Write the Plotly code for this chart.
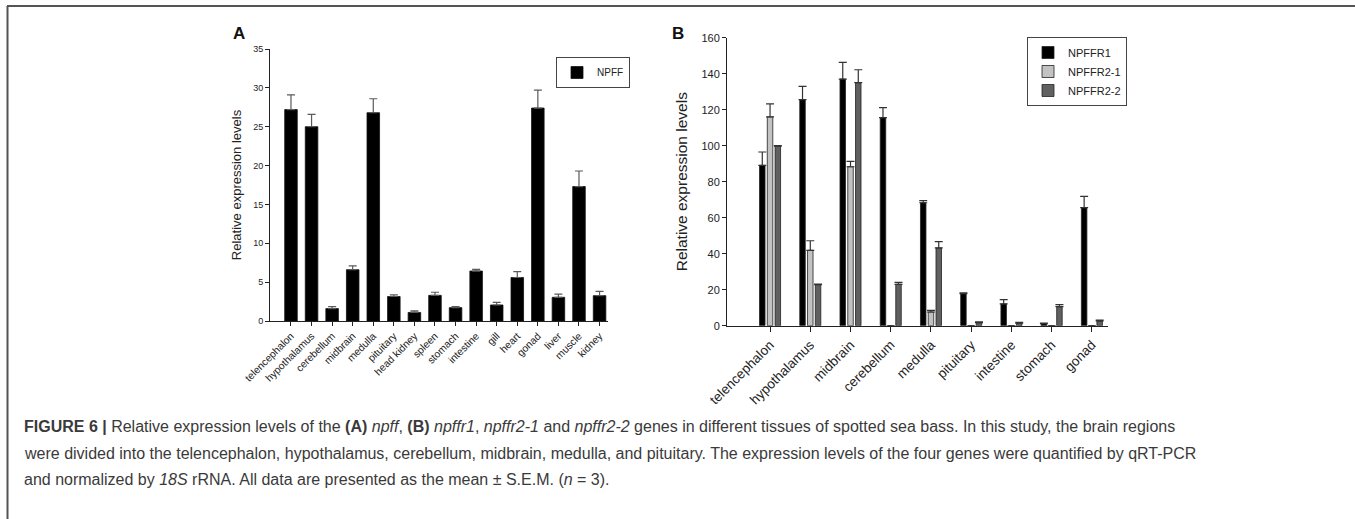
import plotly.graph_objects as go

W, H = 1355, 519

# ---------- Data: panel A (npff) ----------
tissues_a = ["telencephalon", "hypothalamus", "cerebellum", "midbrain", "medulla",
             "pituitary", "head kidney", "spleen", "stomach", "intestine", "gill",
             "heart", "gonad", "liver", "muscle", "kidney"]
npff_mean = [27.2, 25.0, 1.6, 6.6, 26.8, 3.15, 1.1, 3.3, 1.72, 6.43, 2.06, 5.6, 27.4, 3.05, 17.3, 3.26]
npff_top = [29.1, 26.6, 1.85, 7.1, 28.6, 3.35, 1.3, 3.7, 1.85, 6.65, 2.4, 6.35, 29.7, 3.47, 19.3, 3.82]
npff_sem = [t - m for t, m in zip(npff_top, npff_mean)]

# ---------- Data: panel B (receptors) ----------
tissues_b = ["telencephalon", "hypothalamus", "midbrain", "cerebellum", "medulla",
             "pituitary", "intestine", "stomach", "gonad"]
npffr1_mean = [89.1, 125.6, 137.0, 115.6, 68.3, 17.8, 12.1, 1.1, 65.6]
npffr1_sem = [7.4, 7.4, 9.3, 5.5, 1.2, 0.5, 2.4, 0.3, 6.3]
npffr21_mean = [116.0, 41.9, 88.3, 0.0, 7.6, 0.0, 0.0, 0.0, 0.0]
npffr21_sem = [7.2, 5.3, 3.0, 0.0, 0.9, 0.0, 0.0, 0.0, 0.0]
npffr22_mean = [99.8, 22.8, 135.0, 23.0, 43.2, 1.7, 1.4, 10.6, 2.6]
npffr22_sem = [0.3, 0.3, 7.2, 1.1, 3.5, 0.4, 0.5, 1.1, 0.5]

# ---------- Styling ----------
FONT = "Arial, Liberation Sans, sans-serif"
AX = "#222222"

fig = go.Figure()

fig.add_trace(go.Bar(
    x=tissues_a, y=npff_mean, name="NPFF",
    xaxis="x", yaxis="y", legend="legend",
    width=0.61, offset=-0.305,
    marker=dict(color="#000000", line=dict(color="#111111", width=0.8)),
    error_y=dict(type="data", array=npff_sem, arrayminus=[0] * len(npff_sem),
                 symmetric=False, color="#5a5a5a", thickness=1.2, width=4),
))

bw = 0.137
step = 0.193
series_b = [
    ("NPFFR1", npffr1_mean, npffr1_sem, "#000000", -step),
    ("NPFFR2-1", npffr21_mean, npffr21_sem, "#c2c2c2", 0.0),
    ("NPFFR2-2", npffr22_mean, npffr22_sem, "#606060", step),
]
for name, mean, sem, col, sh in series_b:
    fig.add_trace(go.Bar(
        x=tissues_b, y=mean, name=name,
        xaxis="x2", yaxis="y2", legend="legend2",
        width=bw, offset=sh - bw / 2,
        marker=dict(color=col, line=dict(color="#222222", width=0.8)),
        error_y=dict(type="data", array=sem, arrayminus=[0] * len(sem),
                     symmetric=False, color="#333333", thickness=1.2, width=4),
    ))

axis_common = dict(showline=True, linecolor=AX, linewidth=1, ticks="outside",
                   tickcolor=AX, showgrid=False, zeroline=False, fixedrange=True,
                   automargin=False)

fig.update_layout(
    width=W, height=H, autosize=False,
    margin=dict(l=0, r=0, t=0, b=0, pad=0),
    paper_bgcolor="white", plot_bgcolor="white",
    barmode="overlay",
    font=dict(family=FONT, color=AX),
    xaxis=dict(domain=[270 / W, 608 / W], anchor="y", type="category",
               categoryorder="array", categoryarray=tissues_a,
               range=[-1.02, 15.41], ticklen=4, tickangle=-45,
               tickfont=dict(size=10.3), **axis_common),
    yaxis=dict(domain=[1 - 321 / H, 1 - 49 / H], anchor="x", range=[0, 35], dtick=5,
               ticklen=4, tickfont=dict(size=9),
               title=dict(text="Relative expression levels", font=dict(size=13), standoff=8),
               **axis_common),
    xaxis2=dict(domain=[727 / W, 1108 / W], anchor="y2", type="category",
                categoryorder="array", categoryarray=tissues_b,
                range=[-1.07, 8.4], ticklen=5, tickangle=-45,
                tickfont=dict(size=13.5), **axis_common),
    yaxis2=dict(domain=[1 - 325.7 / H, 1 - 37.7 / H], anchor="x2", range=[0, 160], dtick=20,
                ticklen=4, tickfont=dict(size=11),
                title=dict(text="Relative expression levels", font=dict(size=15.5), standoff=10),
                **axis_common),
    legend=dict(x=556 / W, y=1 - 57 / H, xanchor="left", yanchor="top",
                bordercolor="#444444", borderwidth=1, bgcolor="white",
                font=dict(size=10), itemwidth=30),
    legend2=dict(x=1027 / W, y=1 - 37 / H, xanchor="left", yanchor="top",
                 bordercolor="#444444", borderwidth=1, bgcolor="white",
                 font=dict(size=11), itemwidth=30, tracegroupgap=0),
    showlegend=True,
)

# frame lines
fig.add_shape(type="line", xref="paper", yref="paper", x0=7 / W, x1=1, y0=1 - 6 / H, y1=1 - 6 / H,
              line=dict(color="#555555", width=2))
fig.add_shape(type="line", xref="paper", yref="paper", x0=7.5 / W, x1=7.5 / W, y0=0, y1=1 - 6 / H,
              line=dict(color="#555555", width=2))

# panel letters
fig.add_annotation(text="<b>A</b>", xref="paper", yref="paper", x=238.7 / W, y=1 - 33 / H,
                   xanchor="center", yanchor="middle", showarrow=False,
                   font=dict(size=17, family=FONT, color="#111111"))
fig.add_annotation(text="<b>B</b>", xref="paper", yref="paper", x=678.3 / W, y=1 - 33 / H,
                   xanchor="center", yanchor="middle", showarrow=False,
                   font=dict(size=17, family=FONT, color="#111111"))

# caption
caption_lines = [
    "<b>FIGURE 6 |</b> Relative expression levels of the <b>(A)</b> <i>npff</i>, <b>(B)</b> "
    "<i>npffr1</i>, <i>npffr2-1</i> and <i>npffr2-2</i> genes in different tissues of spotted sea bass. "
    "In this study, the brain regions",
    "were divided into the telencephalon, hypothalamus, cerebellum, midbrain, medulla, and pituitary. "
    "The expression levels of the four genes were quantified by qRT-PCR",
    "and normalized by <i>18S</i> rRNA. All data are presented as the mean \u00b1 S.E.M. (<i>n</i> = 3).",
]
for i, line in enumerate(caption_lines):
    fig.add_annotation(text=line, xref="paper", yref="paper", x=22 / W, y=1 - (426.5 + 26.5 * i) / H,
                       xanchor="left", yanchor="middle", showarrow=False, align="left",
                       font=dict(size=16, family=FONT, color="#3a3a3a"))

fig.write_html(
    "out.html",
    config=dict(displayModeBar=False),
    post_script="document.documentElement.style.margin='0';document.body.style.margin='0';"
                "document.body.style.padding='0';document.body.style.overflow='hidden';",
)
